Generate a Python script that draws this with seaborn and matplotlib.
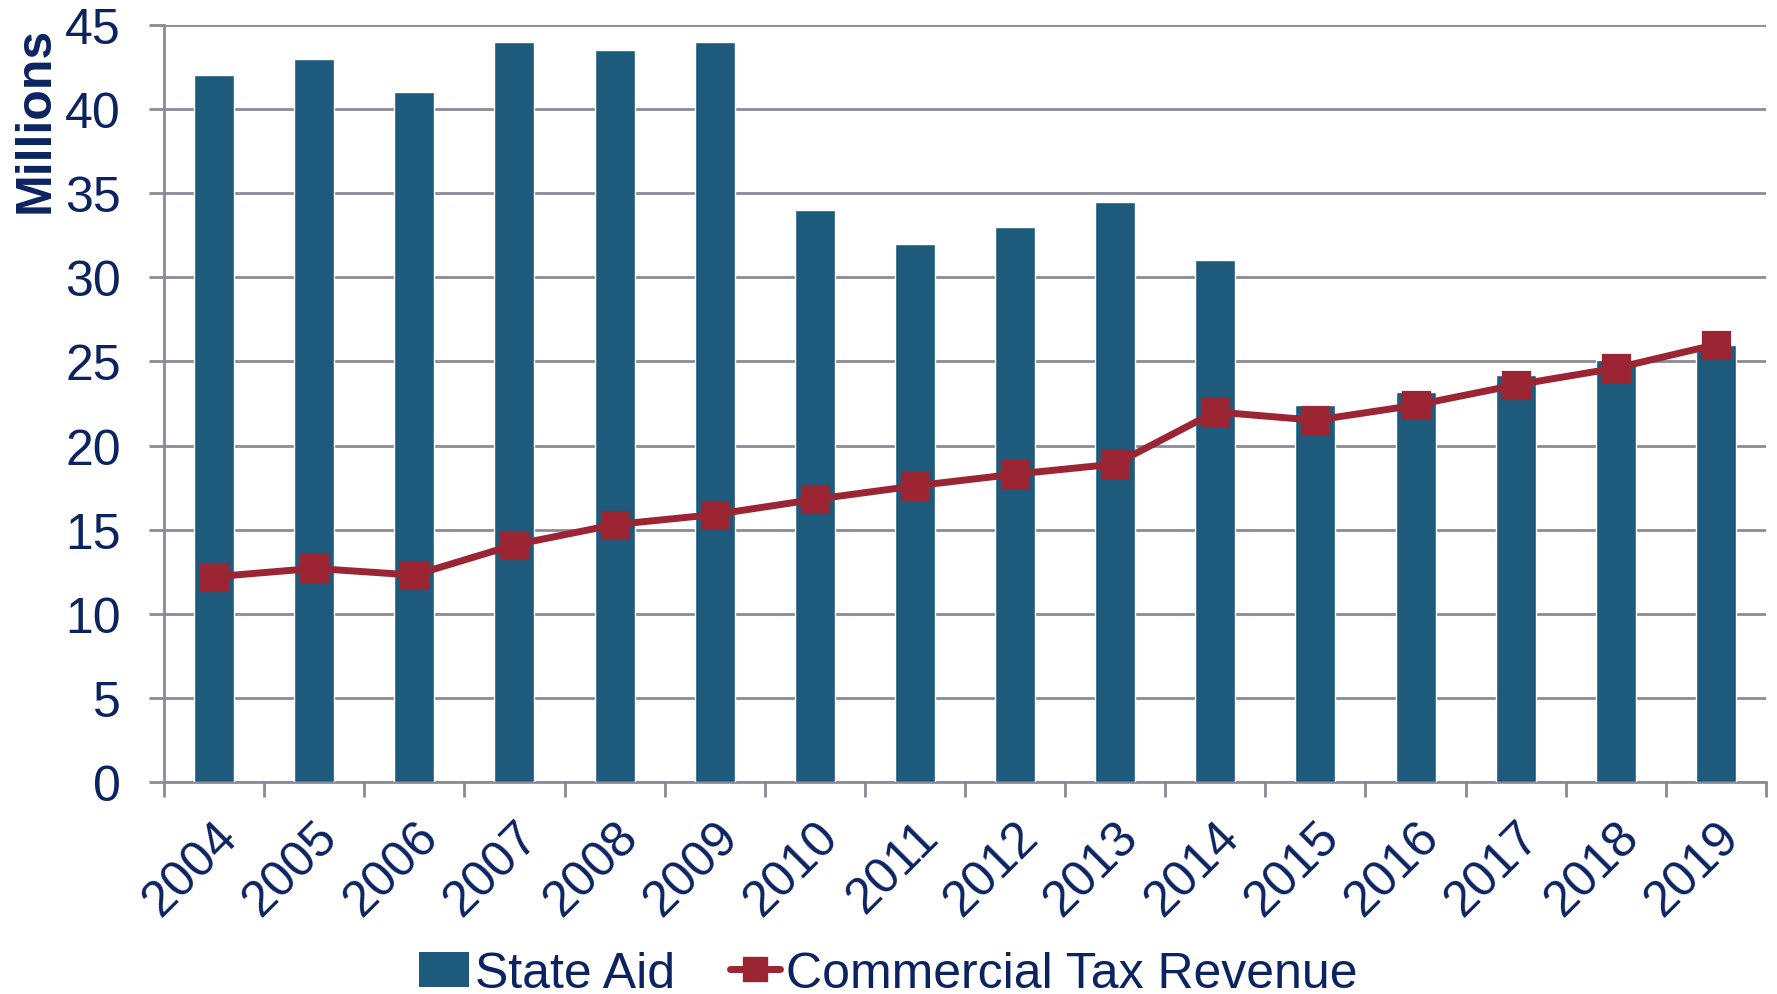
import numpy as np
import pandas as pd
import matplotlib
matplotlib.use("Agg")
import matplotlib.pyplot as plt
import seaborn as sns
from matplotlib.patches import Patch
from matplotlib.lines import Line2D

# Values (millions)
years = [str(y) for y in range(2004, 2020)]
state_aid = [42.0, 43.0, 41.0, 44.0, 43.5, 44.0, 34.0, 32.0, 33.0, 34.5,
             31.0, 22.4, 23.2, 24.2, 25.1, 26.0]
commercial_tax = [12.2, 12.7, 12.3, 14.1, 15.3, 15.9, 16.8, 17.6, 18.3, 18.9,
                  22.0, 21.5, 22.4, 23.6, 24.6, 26.0]
y_ticks = [0, 5, 10, 15, 20, 25, 30, 35, 40, 45]

df = pd.DataFrame({"Year": years,
                   "State Aid": state_aid,
                   "Commercial Tax Revenue": commercial_tax})

bar_color = "#1e5a7c"
line_color = "#9c2534"
text_color = "#0b2360"
grid_color = "#8a8a9a"

sns.set_theme(style="ticks")
plt.rcParams["font.family"] = ["Liberation Sans", "DejaVu Sans"]
fs = 36

fig = plt.figure(figsize=(17.77, 9.95), dpi=100)
ax = fig.add_axes([0.0923, 0.213, 0.9015, 0.761])

sns.barplot(data=df, x="Year", y="State Aid", color=bar_color, width=0.4,
            saturation=1, ax=ax, zorder=3)
sns.pointplot(data=df, x="Year", y="Commercial Tax Revenue", color=line_color,
              markers="s", markersize=17, linewidth=5, ax=ax, zorder=4)

# Axes styling
ax.set_ylim(0, 45)
ax.set_xlim(-0.5, len(years) - 0.5)
ax.set_yticks(y_ticks)
ax.yaxis.grid(True, color=grid_color, linewidth=2, zorder=0)
ax.set_axisbelow(True)
for side in ["top", "right"]:
    ax.spines[side].set_visible(False)
for side in ["left", "bottom"]:
    ax.spines[side].set_color(grid_color)
    ax.spines[side].set_linewidth(2)

ax.tick_params(axis="y", length=11, width=2, color=grid_color, pad=20,
               labelsize=fs, labelcolor=text_color)
ax.set_xticks(np.arange(-0.5, len(years)), minor=True)
ax.tick_params(axis="x", which="minor", length=11, width=2, color=grid_color)
ax.tick_params(axis="x", which="major", length=0, pad=22)
ax.set_xticks(np.arange(len(years)))
ax.set_xticklabels(years, rotation=45, ha="right", rotation_mode="anchor",
                   fontsize=fs, color=text_color)

ax.set_xlabel("")
ax.set_ylabel("Millions", fontsize=fs, fontweight="bold", color=text_color)
ax.yaxis.set_label_coords(-0.066, 0.876)

handles = [Patch(facecolor=bar_color, edgecolor="none"),
           Line2D([0], [0], color=line_color, lw=5, marker="s", markersize=17)]
fig.legend(handles, ["State Aid", "Commercial Tax Revenue"], loc="lower center",
           bbox_to_anchor=(0.5, -0.008), ncol=2, frameon=False, fontsize=fs,
           labelcolor=text_color, handlelength=1.0, handletextpad=0.12,
           columnspacing=1.1, borderaxespad=0, borderpad=0.1)

fig.savefig("out.png", dpi=100)
